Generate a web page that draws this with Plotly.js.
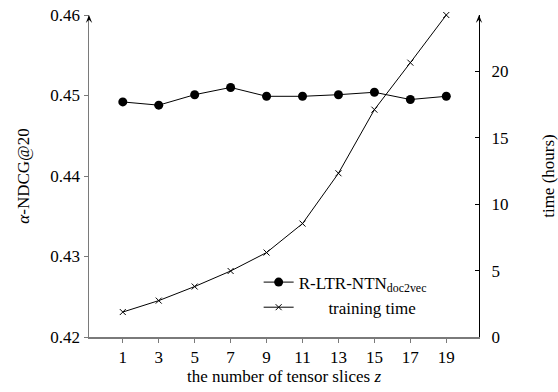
<!DOCTYPE html>
<html>
<head>
<meta charset="utf-8">
<script src="https://cdn.plot.ly/plotly-3.0.1.min.js"></script>
<style>html,body{margin:0;padding:0;background:#fff;}#chart{width:558px;height:392px;}</style>
</head>
<body>
<div id="chart"></div>
<script>
const slices = [1, 3, 5, 7, 9, 11, 13, 15, 17, 19];
const ndcg = [0.4492, 0.4488, 0.4501, 0.4510, 0.4499, 0.4499, 0.4501, 0.4504, 0.4495, 0.4499];
const trainHours = [1.88, 2.74, 3.80, 4.97, 6.36, 8.54, 12.33, 17.12, 20.66, 24.25];
const leftTicks = [0.42, 0.43, 0.44, 0.45, 0.46];
const rightTicks = [0, 5, 10, 15, 20];
const seriesNames = ['R-LTR-NTN<sub>doc2vec</sub>', '\u00a0\u00a0\u00a0\u00a0\u00a0\u00a0\u00a0training time'];

const FONT = '"Liberation Serif", "Times New Roman", serif';
const FS = 17;
const XR = [-0.88, 20.82];
const GRAY = '#7a7a7a';
const PW = 390, PH = 322;

const traces = [
  {x: slices, y: ndcg, name: seriesNames[0], type: 'scatter', mode: 'lines+markers',
   line: {color: '#000', width: 1}, marker: {symbol: 'circle', size: 9, color: '#000'},
   xaxis: 'x', yaxis: 'y', cliponaxis: false},
  {x: slices, y: trainHours, name: seriesNames[1], type: 'scatter', mode: 'lines+markers',
   line: {color: '#000', width: 1}, marker: {symbol: 'x-thin', size: 6, color: '#000', line: {color: '#000', width: 1}},
   xaxis: 'x', yaxis: 'y2', cliponaxis: false}
];

const baseX = {range: XR, tickvals: slices, ticktext: slices.map(String), showgrid: false, zeroline: false,
  tickfont: {family: FONT, size: FS, color: '#000'}, fixedrange: true};

function arrowPath(xp) {
  const dx = 3.2 / PW, dy = 8 / PH;
  return `M ${xp} 1 L ${xp - dx} ${1 - dy} L ${xp} ${1 - dy * 0.6} L ${xp + dx} ${1 - dy} Z`;
}

const layout = {
  width: 558, height: 392,
  margin: {l: 89, r: 79, t: 15, b: 55},
  paper_bgcolor: '#fff', plot_bgcolor: '#fff',
  font: {family: FONT, size: FS, color: '#000'},
  showlegend: true,
  legend: {x: 0.435, y: 0.225, xanchor: 'left', yanchor: 'top', bgcolor: 'rgba(0,0,0,0)',
           font: {family: FONT, size: FS}, tracegroupgap: 0, itemwidth: 30},
  xaxis: Object.assign({}, baseX, {side: 'bottom', anchor: 'y', ticks: 'outside', ticklen: 4, tickcolor: GRAY,
    showline: true, linecolor: GRAY, linewidth: 1.5, ticklabelstandoff: 0,
    title: {text: 'the number of tensor slices <i>z</i>', font: {family: FONT, size: FS}, standoff: 0}}),
  xaxis3: Object.assign({}, baseX, {overlaying: 'x', side: 'bottom', anchor: 'y', ticks: 'inside', ticklen: 4,
    tickcolor: GRAY, showticklabels: false, showline: false}),
  xaxis2: Object.assign({}, baseX, {overlaying: 'x', side: 'top', anchor: 'y', ticks: 'outside', ticklen: 4,
    tickcolor: '#000', showticklabels: false, showline: true, linecolor: '#000', linewidth: 1}),
  xaxis4: Object.assign({}, baseX, {overlaying: 'x', side: 'top', anchor: 'y', ticks: 'inside', ticklen: 4,
    tickcolor: '#000', showticklabels: false, showline: false}),
  yaxis: {range: [0.42, 0.46], tickvals: leftTicks, ticktext: leftTicks.map(v => v.toFixed(2)),
    ticks: 'outside', ticklen: 4, tickcolor: GRAY, showline: true, linecolor: GRAY, linewidth: 1.5,
    showgrid: false, zeroline: false, tickfont: {family: FONT, size: FS}, fixedrange: true,
    title: {text: '<i>α</i>-NDCG@20', font: {family: FONT, size: FS}, standoff: 16}},
  yaxis2: {range: [0, 24.25], overlaying: 'y', side: 'right', anchor: 'x', tickvals: rightTicks,
    ticktext: rightTicks.map(String), ticks: 'inside', ticklen: 4, tickcolor: '#000',
    showline: true, linecolor: '#000', linewidth: 1, showgrid: false, zeroline: false,
    tickfont: {family: FONT, size: FS}, fixedrange: true, ticklabelstandoff: 8,
    title: {text: 'time (hours)', font: {family: FONT, size: FS}, standoff: 34}},
  shapes: [
    {type: 'path', xref: 'paper', yref: 'paper', path: arrowPath(0), fillcolor: '#000', line: {width: 0}},
    {type: 'path', xref: 'paper', yref: 'paper', path: arrowPath(1), fillcolor: '#000', line: {width: 0}}
  ]
};

Plotly.newPlot('chart', traces, layout, {staticPlot: true, displayModeBar: false});
</script>
</body>
</html>
